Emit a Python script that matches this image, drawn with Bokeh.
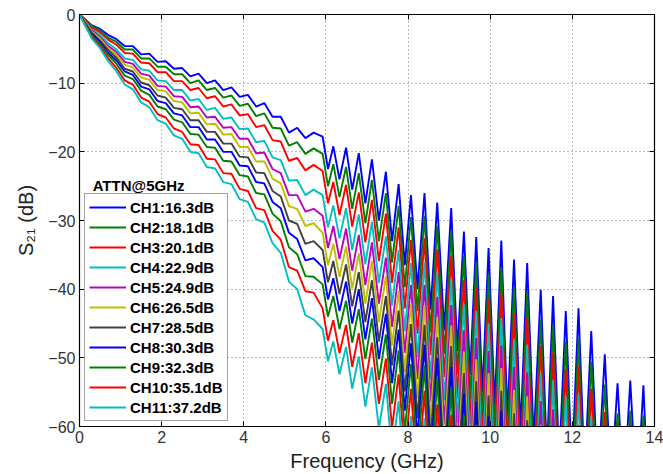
from bokeh.plotting import figure
from bokeh.models import Range1d, LinearAxis, Legend, LegendItem, Label, FixedTicker
from bokeh.embed import file_html
from bokeh.resources import INLINE

# ---------------- data ----------------
FREQ_LOW = [0.0, 0.1, 0.3, 0.5, 0.7, 0.9, 1.1, 1.3, 1.5, 1.7, 1.9, 2.1, 2.3, 2.5, 2.7,
            2.9, 3.1, 3.3, 3.5, 3.7, 3.9, 4.1, 4.3, 4.5, 4.7, 4.9, 5.1, 5.3, 5.5, 5.7]
FREQ_PEAK = [5.92, 6.18, 6.49, 6.80, 7.12, 7.46, 7.77, 8.07, 8.40, 8.71, 9.05, 9.36, 9.66,
             9.96, 10.27, 10.58, 10.90, 11.23, 11.53, 11.84, 12.15, 12.46, 12.79, 13.10, 13.41, 13.73]
FREQ_TROUGH = [6.05, 6.33, 6.64, 6.96, 7.29, 7.61, 7.92, 8.23, 8.55, 8.88, 9.20, 9.51, 9.81,
               10.11, 10.42, 10.74, 11.06, 11.38, 11.68, 11.99, 12.30, 12.62, 12.94, 13.25, 13.57, 13.88]

ch1_low = [0, -0.5, -1.6, -2.1, -3.0, -3.6, -4.6, -4.6, -5.8, -5.7, -6.9, -6.8, -7.9, -7.8, -9.0,
           -8.6, -10.0, -9.6, -11.0, -10.6, -12.0, -11.7, -13.4, -12.9, -14.9, -14.9, -17.2, -16.5, -18.0, -17.2]
ch1_peak = [-17.8, -19.2, -19.4, -20.2, -21.1, -22.9, -24.7, -26.3, -26.0, -27.4, -28.2, -31.6, -32.4,
            -34.0, -32.9, -35.7, -36.2, -40.1, -41.0, -43.2, -42.8, -46.1, -49.5, -53.7, -53.3, -54.0]
ch1_trough = [-22.5, -24.0, -25.5, -27.5, -30.0, -33.0, -36.5, -40.0, -43.0, -46.0, -49.0, -52.5, -55.0,
              -57.0, -58.5, -60.5, -62.0, -64.0, -65.0, -66.0, -67.0, -68.0, -69.0, -70.0, -71.0, -75.0]

ch2_low = [0, -0.5, -1.7, -2.3, -3.4, -4.0, -5.1, -5.1, -6.4, -6.4, -7.6, -7.6, -8.7, -8.7, -10.0,
           -9.6, -11.0, -10.7, -12.1, -11.8, -13.3, -13.0, -14.8, -14.4, -16.5, -16.6, -19.1, -18.6, -20.3, -19.5]
ch2_peak = [-20.3, -21.8, -22.2, -23.1, -24.1, -26.0, -27.9, -29.5, -29.3, -30.8, -31.6, -35.2, -36.1,
            -37.8, -36.8, -39.7, -40.4, -44.4, -45.3, -47.6, -47.2, -50.5, -53.9, -58.1, -57.7, -58.4]
ch2_trough = [-25.0, -26.6, -28.3, -30.4, -33.0, -36.1, -39.7, -43.2, -46.3, -49.4, -52.4, -56.1, -58.7,
              -60.8, -62.4, -64.5, -66.2, -68.3, -69.3, -70.4, -71.4, -72.4, -73.4, -74.4, -75.4, -79.4]

ch3_low = [0, -0.6, -1.9, -2.6, -3.7, -4.4, -5.6, -5.7, -7.0, -7.1, -8.4, -8.4, -9.7, -9.7, -11.0,
           -10.7, -12.2, -11.9, -13.4, -13.1, -14.7, -14.5, -16.4, -16.1, -18.3, -18.5, -21.3, -20.9, -22.7, -21.9]
ch3_peak = [-22.8, -24.4, -24.8, -25.9, -27.0, -29.0, -31.0, -32.8, -32.6, -34.2, -35.1, -38.7, -39.7,
            -41.4, -40.5, -43.5, -44.2, -48.2, -49.2, -51.6, -51.2, -54.5, -57.9, -62.1, -61.7, -62.4]
ch3_trough = [-27.5, -29.2, -30.9, -33.2, -35.9, -39.1, -42.8, -46.5, -49.6, -52.8, -55.9, -59.6, -62.3,
              -64.4, -66.1, -68.3, -70.0, -72.0, -73.0, -74.0, -75.0, -76.0, -77.0, -78.0, -79.0, -80.0]

ch4_low = [0, -0.7, -2.2, -3.0, -4.2, -5.1, -6.4, -6.6, -8.0, -8.2, -9.6, -9.7, -11.0, -11.0, -12.5,
           -12.3, -13.9, -13.6, -15.2, -15.0, -16.7, -16.6, -18.6, -18.4, -20.8, -21.2, -24.2, -24.1, -26.3, -25.5]
ch4_peak = [-26.3, -27.8, -28.2, -29.1, -30.2, -32.3, -34.3, -36.2, -36.1, -37.6, -38.6, -42.2, -43.2,
            -45.0, -44.2, -47.3, -48.1, -52.2, -53.3, -55.6, -55.3, -58.6, -62.0, -66.2, -65.8, -66.5]
ch4_trough = [-31.0, -32.6, -34.3, -36.4, -39.1, -42.4, -46.1, -49.9, -53.1, -56.2, -59.4, -63.1, -65.8,
              -68.0, -69.8, -72.1, -74.0, -76.0, -77.0, -78.0, -79.0, -80.0, -80.0, -80.0, -80.0, -80.0]

ch5_low = [0, -0.8, -2.3, -3.3, -4.6, -5.5, -6.9, -7.2, -8.6, -8.9, -10.4, -10.5, -11.9, -12.0, -13.5,
           -13.4, -15.0, -14.9, -16.5, -16.4, -18.1, -18.1, -20.2, -20.1, -22.5, -23.1, -26.3, -26.3, -28.7, -28.3]
ch5_peak = [-29.3, -30.8, -31.2, -32.1, -33.2, -35.4, -37.5, -39.4, -39.4, -41.1, -42.3, -46.0, -47.1,
            -49.0, -48.2, -51.3, -52.1, -56.3, -57.5, -60.1, -59.8, -63.1, -66.5, -70.0, -70.0, -71.0]
ch5_trough = [-34.0, -35.6, -37.3, -39.4, -42.1, -45.5, -49.3, -53.1, -56.4, -59.7, -63.1, -66.9, -69.7,
              -72.0, -73.8, -76.1, -78.0, -80.0, -80.0, -80.0, -80.0, -80.0, -80.0, -80.0, -80.0, -80.0]

ch6_low = [0, -0.8, -2.5, -3.5, -4.9, -5.9, -7.3, -7.7, -9.2, -9.5, -11.0, -11.2, -12.6, -12.8, -14.4,
           -14.3, -16.0, -15.9, -17.5, -17.4, -19.3, -19.3, -21.4, -21.4, -23.9, -24.6, -27.9, -28.3, -30.8, -30.4]
ch6_peak = [-31.8, -33.4, -33.8, -34.8, -35.9, -38.1, -40.3, -42.2, -42.3, -44.1, -45.3, -49.1, -50.2,
            -52.2, -51.5, -54.7, -55.6, -59.8, -61.0, -63.5, -63.3, -66.6, -70.0, -72.0, -72.0, -73.0]
ch6_trough = [-36.5, -38.2, -39.9, -42.1, -44.8, -48.2, -52.1, -55.9, -59.3, -62.7, -66.1, -70.0, -72.8,
              -75.2, -77.0, -80.0, -80.0, -80.0, -80.0, -80.0, -80.0, -80.0, -80.0, -80.0, -80.0, -80.0]

ch7_low = [0, -0.9, -2.7, -3.8, -5.2, -6.3, -7.9, -8.3, -9.9, -10.3, -11.8, -12.1, -13.6, -13.8, -15.4,
           -15.4, -17.1, -17.1, -18.8, -18.8, -20.7, -20.8, -23.0, -23.1, -25.7, -26.5, -30.0, -30.5, -33.4, -33.0]
ch7_peak = [-34.3, -35.9, -36.4, -37.5, -38.7, -41.0, -43.1, -45.1, -45.2, -47.0, -48.3, -52.2, -53.4,
            -55.5, -54.8, -58.1, -59.1, -63.4, -64.5, -67.1, -66.8, -70.0, -72.0, -74.0, -74.0, -75.0]
ch7_trough = [-39.0, -40.7, -42.5, -44.8, -47.6, -51.1, -54.9, -58.8, -62.2, -65.6, -69.1, -73.1, -76.0,
              -78.0, -80.0, -80.0, -80.0, -80.0, -80.0, -80.0, -80.0, -80.0, -80.0, -80.0, -80.0, -80.0]

ch8_low = [0, -1.0, -2.8, -4.0, -5.6, -6.7, -8.3, -8.8, -10.5, -10.9, -12.6, -12.9, -14.4, -14.7, -16.4,
           -16.4, -18.2, -18.2, -20.0, -20.0, -22.0, -22.1, -24.4, -24.6, -27.3, -28.2, -31.8, -32.7, -35.8, -35.5]
ch8_peak = [-36.8, -38.4, -38.9, -40.0, -41.3, -43.6, -45.9, -47.9, -48.1, -50.0, -51.3, -55.2, -56.4,
            -58.5, -57.8, -61.1, -62.1, -66.4, -67.5, -70.0, -70.0, -73.0, -75.0, -77.0, -77.0, -78.0]
ch8_trough = [-41.5, -43.2, -45.0, -47.3, -50.2, -53.7, -57.7, -61.6, -65.1, -68.6, -72.1, -76.0, -78.0,
              -80.0, -80.0, -80.0, -80.0, -80.0, -80.0, -80.0, -80.0, -80.0, -80.0, -80.0, -80.0, -80.0]

ch9_low = [0, -1.0, -3.0, -4.3, -5.9, -7.2, -8.9, -9.4, -11.1, -11.7, -13.4, -13.8, -15.3, -15.7, -17.4,
           -17.5, -19.3, -19.4, -21.3, -21.4, -23.4, -23.6, -26.0, -26.2, -29.0, -30.1, -33.9, -34.9, -38.1, -38.2]
ch9_peak = [-39.3, -41.0, -41.7, -42.9, -44.3, -46.6, -48.9, -50.9, -51.1, -53.0, -54.3, -58.3, -59.7,
            -62.0, -61.5, -64.9, -66.0, -70.4, -71.5, -74.0, -74.0, -77.0, -80.0, -80.0, -80.0, -80.0]
ch9_trough = [-44.0, -45.8, -47.8, -50.2, -53.2, -56.7, -60.7, -64.6, -68.1, -71.6, -75.1, -79.0, -80.0,
              -80.0, -80.0, -80.0, -80.0, -80.0, -80.0, -80.0, -80.0, -80.0, -80.0, -80.0, -80.0, -80.0]

ch10_low = [0, -1.1, -3.3, -4.6, -6.4, -7.8, -9.6, -10.2, -12.1, -12.7, -14.5, -15.0, -16.6, -17.1, -18.9,
            -19.0, -21.0, -21.1, -23.1, -23.2, -25.4, -25.7, -28.2, -28.5, -31.5, -32.8, -36.8, -37.3, -40.3, -40.5]
ch10_peak = [-42.8, -44.5, -45.2, -46.4, -47.8, -50.1, -52.4, -54.5, -54.8, -56.8, -58.3, -62.3, -63.7,
             -66.0, -65.5, -68.9, -70.0, -74.0, -75.0, -78.0, -78.0, -80.0, -80.0, -80.0, -80.0, -80.0]
ch10_trough = [-47.5, -49.3, -51.3, -53.7, -56.7, -60.2, -64.2, -68.2, -71.8, -75.4, -79.1, -80.0, -80.0,
               -80.0, -80.0, -80.0, -80.0, -80.0, -80.0, -80.0, -80.0, -80.0, -80.0, -80.0, -80.0, -80.0]

ch11_low = [0, -1.2, -3.5, -4.9, -6.8, -8.3, -10.2, -10.9, -12.8, -13.5, -15.4, -15.9, -17.6, -18.1, -20.0,
            -20.2, -22.2, -22.4, -24.4, -24.7, -26.9, -27.3, -29.8, -30.3, -33.3, -34.7, -38.9, -40.0, -43.8, -44.4]
ch11_peak = [-45.8, -47.6, -48.4, -49.8, -51.4, -53.8, -56.3, -58.5, -58.8, -60.8, -62.3, -66.3, -67.7,
             -70.0, -70.0, -73.0, -74.0, -78.0, -80.0, -80.0, -80.0, -80.0, -80.0, -80.0, -80.0, -80.0]
ch11_trough = [-50.5, -52.4, -54.5, -57.1, -60.3, -63.9, -68.1, -72.2, -75.8, -79.4, -80.0, -80.0, -80.0,
               -80.0, -80.0, -80.0, -80.0, -80.0, -80.0, -80.0, -80.0, -80.0, -80.0, -80.0, -80.0, -80.0]

LABELS = ["CH1:16.3dB", "CH2:18.1dB", "CH3:20.1dB", "CH4:22.9dB", "CH5:24.9dB", "CH6:26.5dB",
          "CH7:28.5dB", "CH8:30.3dB", "CH9:32.3dB", "CH10:35.1dB", "CH11:37.2dB"]
X_TICKS = [0, 2, 4, 6, 8, 10, 12, 14]
Y_TICKS = [-60, -50, -40, -30, -20, -10, 0]

SERIES = [(ch1_low, ch1_peak, ch1_trough), (ch2_low, ch2_peak, ch2_trough),
          (ch3_low, ch3_peak, ch3_trough), (ch4_low, ch4_peak, ch4_trough),
          (ch5_low, ch5_peak, ch5_trough), (ch6_low, ch6_peak, ch6_trough),
          (ch7_low, ch7_peak, ch7_trough), (ch8_low, ch8_peak, ch8_trough),
          (ch9_low, ch9_peak, ch9_trough), (ch10_low, ch10_peak, ch10_trough),
          (ch11_low, ch11_peak, ch11_trough)]

COLORS = ["#0000FF", "#008000", "#FF0000", "#00BFBF", "#BF00BF", "#BFBF00",
          "#404040", "#0000FF", "#008000", "#FF0000", "#00BFBF"]

FONT = "Liberation Sans"


def build(low, peak, trough):
    xs = list(FREQ_LOW)
    ys = list(low)
    for fp, vp, ft, vt in zip(FREQ_PEAK, peak, FREQ_TROUGH, trough):
        xs += [fp, ft]
        ys += [vp, vt]
    return xs, ys


p = figure(width=663, height=474, output_backend="svg", toolbar_location=None,
           x_range=Range1d(0, 14), y_range=Range1d(-60, 0),
           min_border_left=79, min_border_right=9, min_border_top=14, min_border_bottom=48)
p.background_fill_color = "white"
p.border_fill_color = "white"
p.outline_line_color = "black"
p.outline_line_width = 1.2

items = []
for (low, peak, trough), color, label in zip(SERIES, COLORS, LABELS):
    xs, ys = build(low, peak, trough)
    r = p.line(xs, ys, line_color=color, line_width=1.9)
    items.append(LegendItem(label=label, renderers=[r]))

for ax in (p.xaxis[0], p.yaxis[0]):
    ax.major_tick_in = 5
    ax.major_tick_out = 0
    ax.minor_tick_line_color = None
    ax.axis_line_color = "black"
    ax.major_tick_line_color = "black"
    ax.major_label_text_font = FONT
    ax.major_label_text_font_size = "16px"
    ax.major_label_text_color = "#333333"
    ax.axis_label_text_font = FONT
    ax.axis_label_text_font_size = "20px"
    ax.axis_label_text_font_style = "normal"
    ax.axis_label_text_color = "#222222"

p.xaxis[0].ticker = FixedTicker(ticks=X_TICKS)
p.yaxis[0].ticker = FixedTicker(ticks=Y_TICKS)
p.xaxis[0].axis_label = "Frequency (GHz)"
p.yaxis[0].axis_label = "S\u2082\u2081 (dB)"
p.xaxis[0].major_label_standoff = 4
p.yaxis[0].major_label_standoff = 4
p.xaxis[0].axis_label_standoff = 4
p.yaxis[0].axis_label_standoff = 8

for loc, ticks in (("above", X_TICKS), ("right", Y_TICKS)):
    ax = LinearAxis(ticker=FixedTicker(ticks=ticks))
    ax.major_tick_in = 5
    ax.major_tick_out = 0
    ax.minor_tick_line_color = None
    ax.major_label_text_font_size = "0px"
    ax.major_label_text_alpha = 0
    ax.major_label_standoff = 0
    ax.axis_line_color = "black"
    ax.major_tick_line_color = "black"
    p.add_layout(ax, loc)

p.xgrid.ticker = FixedTicker(ticks=X_TICKS)
p.ygrid.ticker = FixedTicker(ticks=Y_TICKS)
for g in (p.xgrid[0], p.ygrid[0]):
    g.grid_line_color = "#777777"
    g.grid_line_dash = "1 3"
    g.grid_line_width = 1

legend = Legend(items=items, location=(5, 5), orientation="vertical")
legend.label_text_font = FONT
legend.label_text_font_style = "bold"
legend.label_text_font_size = "15px"
legend.label_text_color = "black"
legend.glyph_width = 37
legend.glyph_height = 18
legend.label_height = 18
legend.label_standoff = 4
legend.spacing = 2
legend.padding = 4
legend.margin = 0
legend.border_line_color = "#444444"
legend.border_line_width = 1
legend.background_fill_color = "white"
legend.background_fill_alpha = 1
p.add_layout(legend)

title = Label(x=0.32, y=-24.9, text="ATTN@5GHz", text_font=FONT, text_font_style="bold",
              text_font_size="15px", text_baseline="middle", text_color="black")
p.add_layout(title)

open("out.html", "w").write(file_html(p, INLINE))
